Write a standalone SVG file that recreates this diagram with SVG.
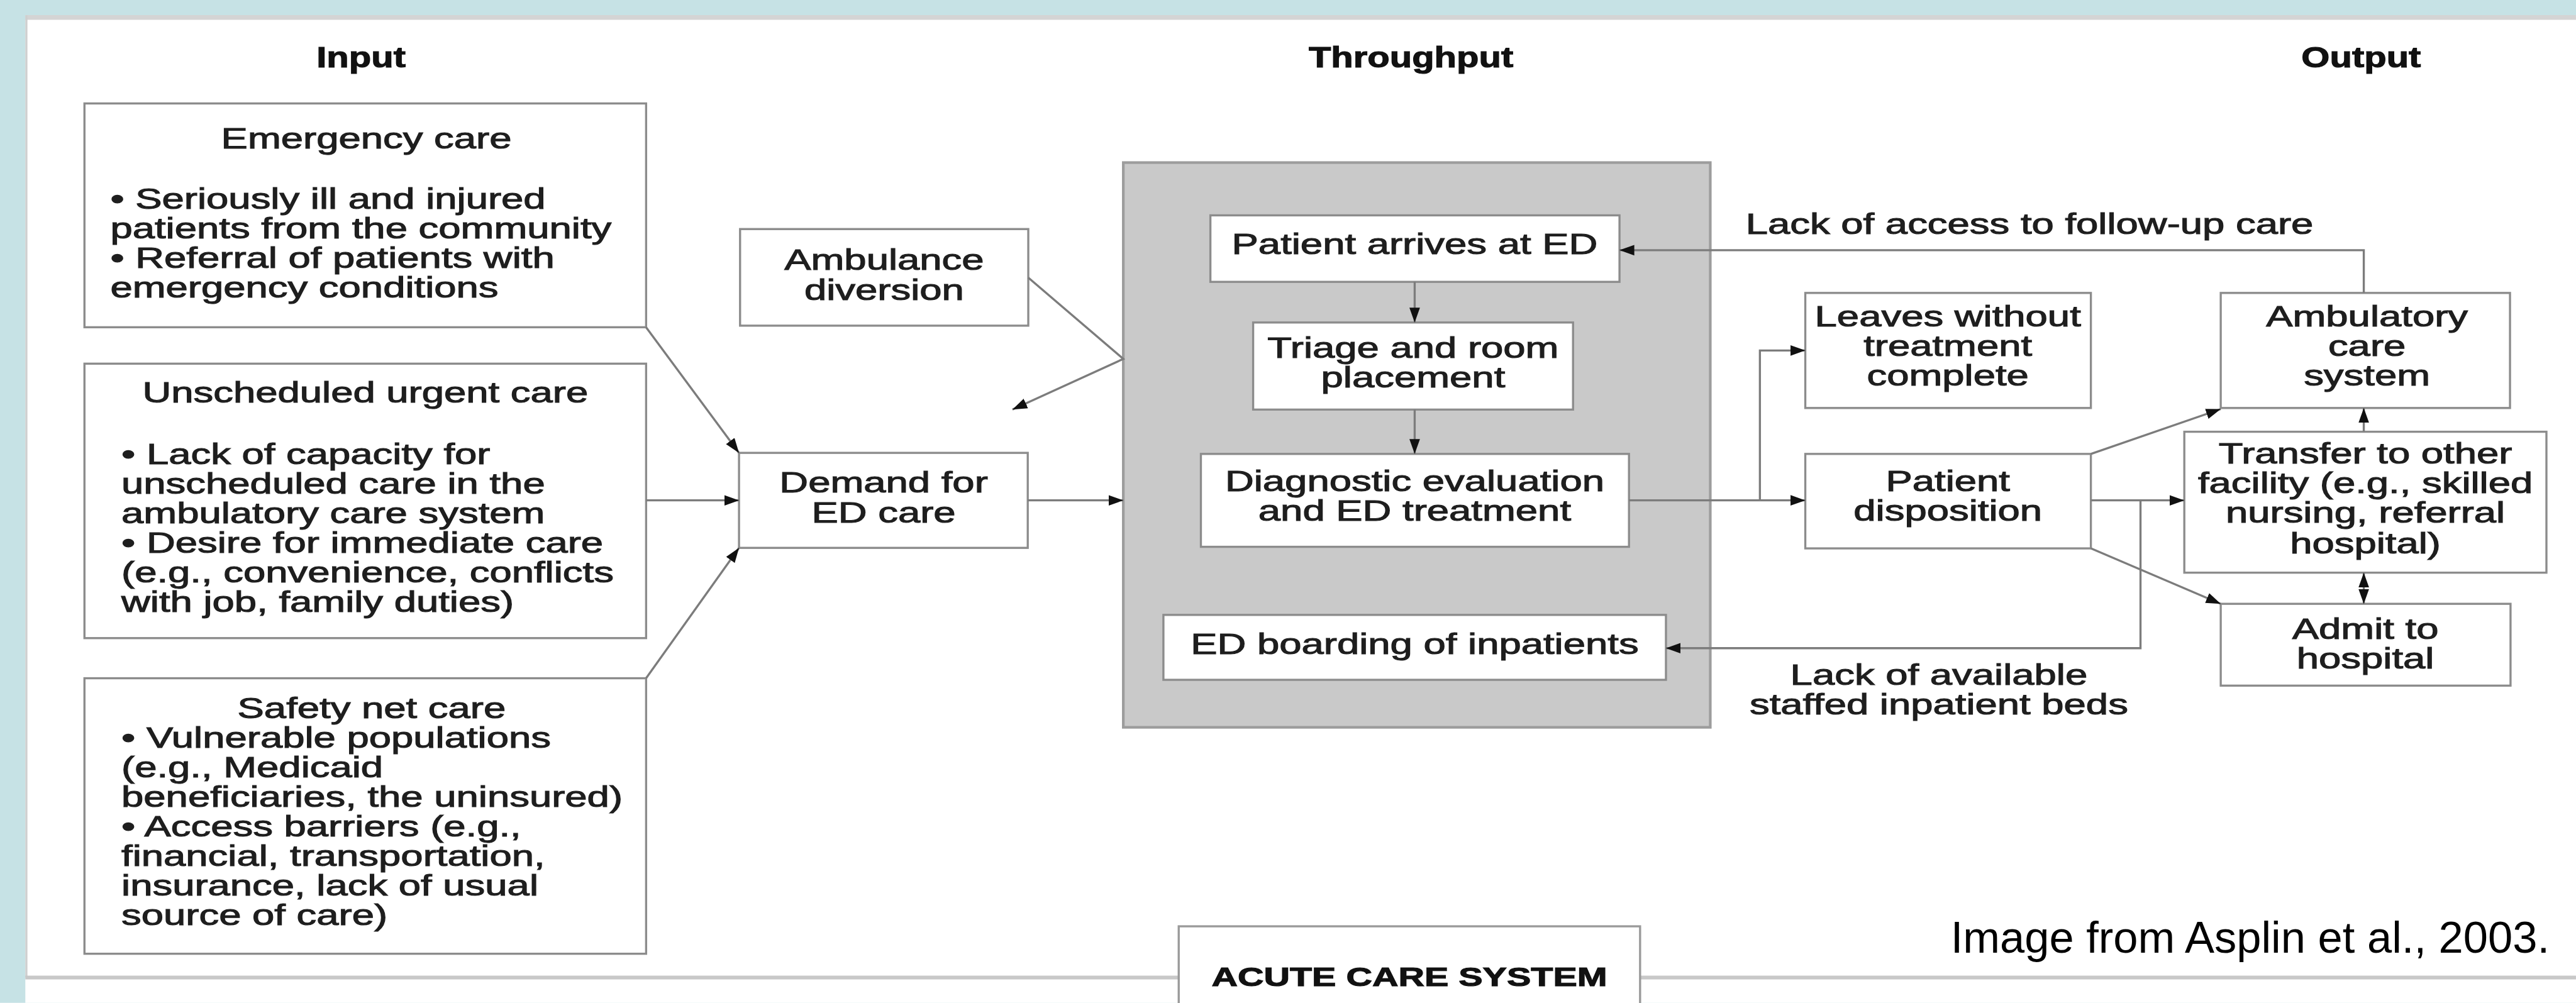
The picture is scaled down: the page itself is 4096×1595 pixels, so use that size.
<svg xmlns="http://www.w3.org/2000/svg" width="4096" height="1595" viewBox="0 0 4096 1595">
<defs>
<style>
.box{fill:#ffffff;stroke:#8c8c8c;stroke-width:4}
.t{font-family:"Liberation Sans",Arial,sans-serif;font-size:54px;fill:#1e1e1e;stroke:#1e1e1e;stroke-width:1.3}
.hd{font-weight:bold;fill:#111;stroke:#111}
.c{fill:none;stroke:#7c7c7c;stroke-width:4}
</style>
<marker id="ah" markerUnits="userSpaceOnUse" markerWidth="30" markerHeight="24" refX="28" refY="12" orient="auto-start-reverse">
<path d="M0,2 L28,12 L0,22 Z" fill="#111"/>
</marker>
</defs>
<g transform="scale(0.83934)">
<rect x="0" y="0" width="4880" height="1900" fill="#c6e2e5"/>
<rect x="48" y="29" width="4832" height="1871" fill="#ffffff"/>
<line x1="48" y1="33" x2="4880" y2="33" stroke="#d4d4d4" stroke-width="9"/>
<line x1="50" y1="29" x2="50" y2="1852" stroke="#cfcfcf" stroke-width="4"/>
<line x1="48" y1="1852" x2="4880" y2="1852" stroke="#c8c8c8" stroke-width="7"/>

<g id="headers">
<text class="t hd" transform="translate(684 127) scale(1.28 1)" text-anchor="middle">Input</text>
<text class="t hd" transform="translate(2673 127) scale(1.28 1)" text-anchor="middle">Throughput</text>
<text class="t hd" transform="translate(4473 127) scale(1.28 1)" text-anchor="middle">Output</text>
</g>

<g id="node-emergency">
<rect class="box" x="160" y="196" width="1064" height="424"/>
<text class="t" transform="translate(694 281) scale(1.4 1)" text-anchor="middle">Emergency care</text>
<text class="t" transform="translate(209 395) scale(1.4 1)"><tspan x="0" y="0">• Seriously ill and injured</tspan><tspan x="0" y="56">patients from the community</tspan><tspan x="0" y="112">• Referral of patients with</tspan><tspan x="0" y="168">emergency conditions</tspan></text>
</g>

<g id="node-unscheduled">
<rect class="box" x="160" y="689" width="1064" height="520"/>
<text class="t" transform="translate(692 763) scale(1.4 1)" text-anchor="middle">Unscheduled urgent care</text>
<text class="t" transform="translate(230 879) scale(1.4 1)"><tspan x="0" y="0">• Lack of capacity for</tspan><tspan x="0" y="56">unscheduled care in the</tspan><tspan x="0" y="112">ambulatory care system</tspan><tspan x="0" y="168">• Desire for immediate care</tspan><tspan x="0" y="224">(e.g., convenience, conflicts</tspan><tspan x="0" y="280">with job, family duties)</tspan></text>
</g>

<g id="node-safety">
<rect class="box" x="160" y="1285" width="1064" height="522"/>
<text class="t" transform="translate(704 1360) scale(1.4 1)" text-anchor="middle">Safety net care</text>
<text class="t" transform="translate(230 1416) scale(1.4 1)"><tspan x="0" y="0">• Vulnerable populations</tspan><tspan x="0" y="56">(e.g., Medicaid</tspan><tspan x="0" y="112">beneficiaries, the uninsured)</tspan><tspan x="0" y="168">• Access barriers (e.g.,</tspan><tspan x="0" y="224">financial, transportation,</tspan><tspan x="0" y="280">insurance, lack of usual</tspan><tspan x="0" y="336">source of care)</tspan></text>
</g>

<g id="node-ambulance">
<rect class="box" x="1402" y="434" width="546" height="183"/>
<text class="t" transform="translate(1675 511) scale(1.4 1)" text-anchor="middle"><tspan x="0" y="0">Ambulance</tspan><tspan x="0" y="57">diversion</tspan></text>
</g>

<g id="node-demand">
<rect class="box" x="1400" y="858" width="547" height="180"/>
<text class="t" transform="translate(1674 933) scale(1.4 1)" text-anchor="middle"><tspan x="0" y="0">Demand for</tspan><tspan x="0" y="57">ED care</tspan></text>
</g>

<g id="node-throughput">
<rect x="2128" y="308" width="1112" height="1070" fill="#c9c9c9" stroke="#9c9c9c" stroke-width="5"/>
</g>

<g id="node-arrives">
<rect class="box" x="2293" y="408" width="775" height="126"/>
<text class="t" transform="translate(2680 481) scale(1.4 1)" text-anchor="middle">Patient arrives at ED</text>
</g>

<g id="node-triage">
<rect class="box" x="2374" y="611" width="606" height="165"/>
<text class="t" transform="translate(2677 678) scale(1.4 1)" text-anchor="middle"><tspan x="0" y="0">Triage and room</tspan><tspan x="0" y="56">placement</tspan></text>
</g>

<g id="node-diagnostic">
<rect class="box" x="2275" y="860" width="811" height="176"/>
<text class="t" transform="translate(2680 930) scale(1.4 1)" text-anchor="middle"><tspan x="0" y="0">Diagnostic evaluation</tspan><tspan x="0" y="57">and ED treatment</tspan></text>
</g>

<g id="node-boarding">
<rect class="box" x="2204" y="1165" width="952" height="123"/>
<text class="t" transform="translate(2680 1239) scale(1.4 1)" text-anchor="middle">ED boarding of inpatients</text>
</g>

<g id="node-leaves">
<rect class="box" x="3420" y="555" width="541" height="218"/>
<text class="t" transform="translate(3690 618) scale(1.4 1)" text-anchor="middle"><tspan x="0" y="0">Leaves without</tspan><tspan x="0" y="56">treatment</tspan><tspan x="0" y="112">complete</tspan></text>
</g>

<g id="node-disposition">
<rect class="box" x="3420" y="860" width="541" height="179"/>
<text class="t" transform="translate(3690 930) scale(1.4 1)" text-anchor="middle"><tspan x="0" y="0">Patient</tspan><tspan x="0" y="57">disposition</tspan></text>
</g>

<g id="node-ambulatory">
<rect class="box" x="4207" y="555" width="548" height="218"/>
<text class="t" transform="translate(4484 618) scale(1.4 1)" text-anchor="middle"><tspan x="0" y="0">Ambulatory</tspan><tspan x="0" y="56">care</tspan><tspan x="0" y="112">system</tspan></text>
</g>

<g id="node-transfer">
<rect class="box" x="4138" y="818" width="686" height="267"/>
<text class="t" transform="translate(4481 878) scale(1.4 1)" text-anchor="middle"><tspan x="0" y="0">Transfer to other</tspan><tspan x="0" y="56">facility (e.g., skilled</tspan><tspan x="0" y="112">nursing, referral</tspan><tspan x="0" y="170">hospital)</tspan></text>
</g>

<g id="node-admit">
<rect class="box" x="4207" y="1144" width="549" height="155"/>
<text class="t" transform="translate(4481 1210) scale(1.4 1)" text-anchor="middle"><tspan x="0" y="0">Admit to</tspan><tspan x="0" y="57">hospital</tspan></text>
</g>

<g id="connectors">
<path class="c" d="M1224,620 L1400,858" marker-end="url(#ah)"/>
<path class="c" d="M1224,948 L1400,948" marker-end="url(#ah)"/>
<path class="c" d="M1224,1285 L1400,1038" marker-end="url(#ah)"/>
<path class="c" d="M1948,526 L2128,680 L1918,776" marker-end="url(#ah)"/>
<path class="c" d="M1947,948 L2128,948" marker-end="url(#ah)"/>
<path class="c" d="M2680,534 L2680,611" marker-end="url(#ah)"/>
<path class="c" d="M2680,776 L2680,860" marker-end="url(#ah)"/>
<path class="c" d="M3086,948 L3420,948" marker-end="url(#ah)"/>
<path class="c" d="M3334,948 L3334,664 L3420,664" marker-end="url(#ah)"/>
<path class="c" d="M4478,555 L4478,474 L3068,474" marker-end="url(#ah)"/>
<path class="c" d="M3961,860 L4207,775" marker-end="url(#ah)"/>
<path class="c" d="M3961,948 L4138,948" marker-end="url(#ah)"/>
<path class="c" d="M3961,1039 L4207,1144" marker-end="url(#ah)"/>
<path class="c" d="M4478,818 L4478,773" marker-end="url(#ah)"/>
<path class="c" d="M4478,1085 L4478,1144" marker-start="url(#ah)" marker-end="url(#ah)"/>
<path class="c" d="M4055,948 L4055,1228 L3156,1228" marker-end="url(#ah)"/>
</g>

<g id="labels">
<text class="t" transform="translate(3307 443) scale(1.4 1)">Lack of access to follow-up care</text>
<text class="t" transform="translate(3673 1297) scale(1.4 1)" text-anchor="middle"><tspan x="0" y="0">Lack of available</tspan><tspan x="0" y="56">staffed inpatient beds</tspan></text>
</g>

<g id="node-acute">
<rect x="2233" y="1755" width="874" height="200" fill="#ffffff" stroke="#9a9a9a" stroke-width="4"/>
<text class="t hd" transform="translate(2670 1868) scale(1.37 1)" text-anchor="middle" style="font-size:50px">ACUTE CARE SYSTEM</text>
</g>

<text id="credit" x="4830" y="1805" text-anchor="end" style="font-family:'Liberation Sans',Arial,sans-serif;font-size:84px;fill:#000">Image from Asplin et al., 2003.</text>
</g>
</svg>
